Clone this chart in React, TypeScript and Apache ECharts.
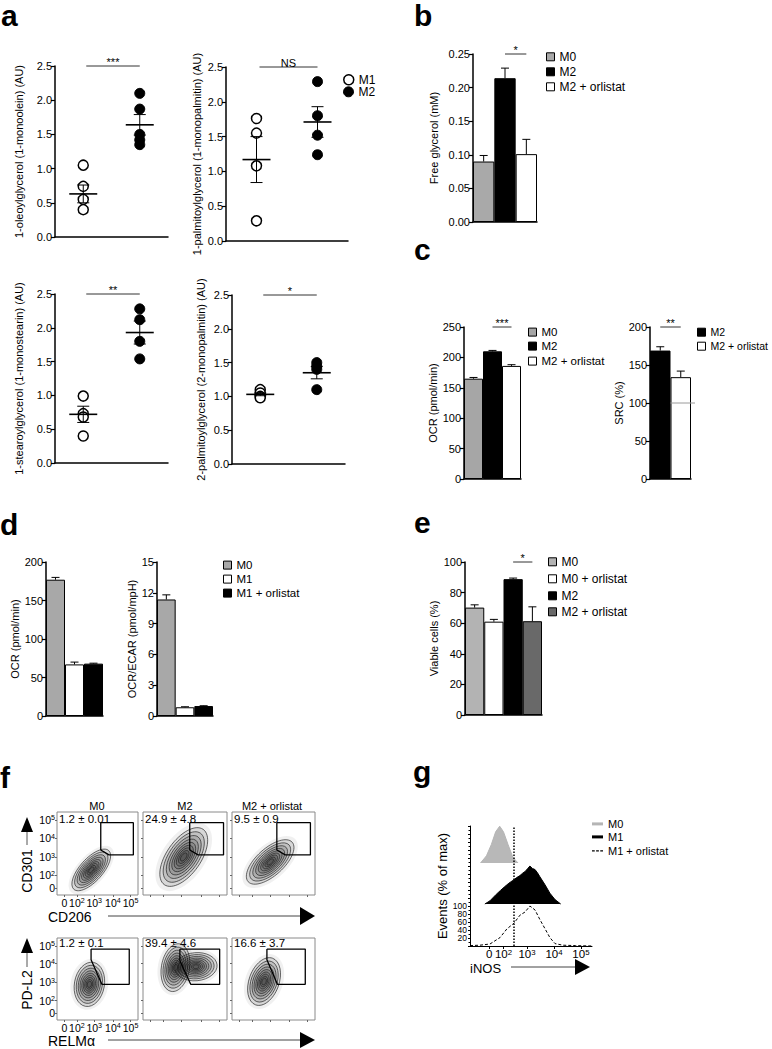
import React, { useEffect, useRef } from 'react';
import * as echarts from 'echarts';

const FONT = '"Liberation Sans", Arial, Helvetica, sans-serif';

// ---------------- panel a ----------------
const aGroups = ['M1', 'M2'];
const a1M1 = [1.05, 0.74, 0.55, 0.4];
const a1M2 = [2.1, 1.87, 1.5, 1.42, 1.35];
const a1Mean = [0.63, 1.64];
const a1Sem = [0.13, 0.15];
const a2M1 = [1.76, 1.55, 1.08, 0.29];
const a2M2 = [2.29, 1.8, 1.52, 1.24];
const a2Mean = [1.17, 1.71];
const a2Sem = [0.33, 0.22];
const a3M1 = [0.99, 0.73, 0.68, 0.4];
const a3M2 = [2.28, 2.12, 1.8, 1.54];
const a3Mean = [0.72, 1.93];
const a3Sem = [0.12, 0.17];
const a4M1 = [1.1, 1.05, 1.0, 0.98];
const a4M2 = [1.5, 1.45, 1.4, 1.1];
const a4Mean = [1.03, 1.35];
const a4Sem = [0.02, 0.09];
const aSig = ['***', 'NS', '**', '*'];
const aNames = [
  '1-oleoylglycerol (1-monoolein) (AU)',
  '1-palmitoylglycerol (1-monopalmitin) (AU)',
  '1-stearoylglycerol (1-monostearin) (AU)',
  '2-palmitoylglycerol (2-monopalmitin) (AU)',
];

// ---------------- panel b ----------------
const bCats = ['M0', 'M2', 'M2 + orlistat'];
const bVals = [0.09, 0.214, 0.101];
const bErr = [0.009, 0.015, 0.022];

// ---------------- panel c ----------------
const c1Cats = ['M0', 'M2', 'M2 + orlistat'];
const c1Vals = [165, 210, 186];
const c1Err = [2, 1.5, 2];
const c2Cats = ['M2', 'M2 + orlistat'];
const c2Vals = [169, 134];
const c2Err = [5, 8];
const c2Baseline = 100;

// ---------------- panel d ----------------
const dCats = ['M0', 'M1', 'M1 + orlistat'];
const d1Vals = [177, 67, 68];
const d1Err = [3, 3, 0.6];
const d2Vals = [11.35, 0.85, 0.97];
const d2Err = [0.45, 0.05, 0.03];

// ---------------- panel e ----------------
const eCats = ['M0', 'M0 + orlistat', 'M2', 'M2 + orlistat'];
const eVals = [70.2, 61, 88.8, 61.3];
const eErr = [1.8, 1.5, 0.7, 9.4];

// ---------------- panel f ----------------
const fXTicks = [1.45, 2.12, 3.05, 4.05, 5.0];
const fYTicks = [1.4, 2.08, 3.05, 4.05, 5.0];
const fYZero = 1.4;
const fTickText = ['0', '10{s|2}', '10{s|3}', '10{s|4}', '10{s|5}'];
const fColTitles = ['M0', 'M2', 'M2 + orlistat'];
const fStatsTop = ['1.2 ± 0.01', '24.9 ± 4.8', '9.5 ± 0.9'];
const fStatsBottom = ['1.2 ± 0.1', '39.4 ± 4.6', '16.6 ± 3.7'];
// [cx, cy, half-major, half-minor, angle deg]
const fCloudsTop = [
  [[2.89, 2.37, 1.4, 0.6, 48]],
  [[3.16, 3.05, 1.75, 0.9, 55]],
  [[3.05, 2.79, 1.55, 0.72, 42]],
];
const fCloudsBottom = [
  [[2.79, 2.95, 1.2, 0.8, 80]],
  [[2.73, 3.84, 1.25, 0.75, 80], [3.79, 3.89, 1.1, 0.75, 5]],
  [[2.73, 3.1, 1.3, 0.8, 70]],
];
const fGatesTop = [
  [[3.4, 4.86], [5.15, 4.86], [5.15, 3.16], [3.84, 3.16], [3.4, 3.42], [3.4, 4.86]],
  [[3.47, 4.86], [5.22, 4.86], [5.22, 3.16], [3.9, 3.16], [3.47, 3.42], [3.47, 4.86]],
  [[3.4, 4.86], [5.16, 4.86], [5.16, 3.16], [3.84, 3.16], [3.4, 3.42], [3.4, 4.86]],
];
const fGatesBottom = [
  [[2.88, 4.83], [4.93, 4.83], [4.93, 2.95], [3.46, 2.95], [2.88, 4.26], [2.88, 4.83]],
  [[2.96, 4.83], [5.02, 4.83], [5.02, 2.95], [3.52, 2.95], [2.96, 4.21], [2.96, 4.83]],
  [[2.88, 4.83], [4.89, 4.83], [4.89, 2.95], [3.43, 2.95], [2.88, 4.26], [2.88, 4.83]],
];

// ---------------- panel g ----------------
const gTickVals = [1.6, 2.13, 3, 4, 5];
const gTickText = ['0', '10{s|2}', '10{s|3}', '10{s|4}', '10{s|5}'];
const gYLabelMax = 100;
const gM0x = [1.28, 1.5, 1.68, 1.84, 1.99, 2.13, 2.3, 2.48, 2.67];
const gM0h = [0, 18, 46, 78, 92, 78, 46, 14, 0];
const gM0Base = 207.5;
const gM1x = [1.44, 1.63, 1.86, 2.02, 2.17, 2.33, 2.48, 2.62, 2.74, 2.84, 2.93, 3.02, 3.11, 3.2, 3.3, 3.39, 3.48, 3.67, 3.85, 4.04, 4.25];
const gM1h = [0, 8, 24, 34, 43, 52, 59, 66, 71, 77, 81, 88, 95, 89, 86, 78, 68, 48, 27, 11, 0];
const gM1Base = 105;
const gOrlx = [0.89, 1.26, 1.63, 2.0, 2.26, 2.52, 2.74, 2.93, 3.11, 3.3, 3.48, 3.67, 3.85, 4.04, 4.33, 4.8, 5.41];
const gOrly = [1, 2, 5, 21, 43, 57, 77, 85, 100, 90, 66, 43, 21, 6, 2, 1, 0];
const gGateX = 2.52;

function buildOption() {
  const grid: any[] = [];
  const xAxis: any[] = [];
  const yAxis: any[] = [];
  const series: any[] = [];
  const legend: any[] = [];
  const elements: any[] = [];
  const axisLineStyle = { color: '#000', width: 1.5 };
  const ts = (fs: number) => ({ fontSize: fs, color: '#000', fontFamily: FONT });
  const tsG = (fs: number) => ({ fontSize: fs, fontFamily: FONT, fill: '#000' });
  const legendFmt = (n: string) => (n.indexOf('|') >= 0 ? n.split('|')[1] : n);
  const supRich = (fs: number) => ({
    s: { fontSize: fs * 0.68, fontFamily: FONT, color: '#000', verticalAlign: 'top' },
  });

  const addGrid = (l: number, t: number, w: number, h: number) => {
    grid.push({ left: l, top: t, width: w, height: h, containLabel: false });
    return grid.length - 1;
  };
  const valueY = (gi: number, min: number, max: number, interval: number, name: string, nameGap: number, fmt?: any) => {
    yAxis.push({
      gridIndex: gi, type: 'value', min, max, interval, name, nameLocation: 'middle', nameGap, nameRotate: 90,
      nameTextStyle: ts(11),
      axisLine: { show: true, lineStyle: axisLineStyle },
      axisTick: { show: true, length: 4, lineStyle: { color: '#000', width: 1.2 } },
      axisLabel: { ...ts(11), margin: 3, formatter: fmt },
      splitLine: { show: false },
    });
  };
  const catX = (gi: number, cats: string[]) => {
    xAxis.push({
      gridIndex: gi, type: 'category', data: cats,
      axisLine: { show: true, onZero: false, lineStyle: axisLineStyle },
      axisTick: { show: false }, axisLabel: { show: false }, splitLine: { show: false },
    });
  };
  const sig = (gi: number, i0: number, i1: number, y: number, label: string, dx0 = 0) => {
    series.push({
      type: 'custom', xAxisIndex: gi, yAxisIndex: gi, z: 6, silent: true, clip: false,
      data: [[i0, i1, y]], encode: { x: [0, 1], y: 2 },
      renderItem: (p: any, api: any) => {
        const a = api.coord([api.value(0), api.value(2)]);
        const b = api.coord([api.value(1), api.value(2)]);
        return {
          type: 'group', children: [
            { type: 'line', shape: { x1: a[0] + dx0, y1: a[1], x2: b[0], y2: a[1] }, style: { stroke: '#333', lineWidth: 1 } },
            { type: 'text', x: (a[0] + dx0 + b[0]) / 2, y: a[1] + 1, style: { text: label, fontSize: 11, fontFamily: FONT, fill: '#000', align: 'center', verticalAlign: 'bottom' } },
          ],
        };
      },
    });
  };
  const errBars = (gi: number, vals: number[], errs: number[], cap: number) => {
    series.push({
      type: 'custom', xAxisIndex: gi, yAxisIndex: gi, z: 5, silent: true, clip: false,
      data: vals.map((v, i) => [i, v, v + errs[i]]), encode: { x: 0, y: [1, 2] },
      renderItem: (p: any, api: any) => {
        const b = api.coord([api.value(0), api.value(1)]);
        const t = api.coord([api.value(0), api.value(2)]);
        return {
          type: 'group', children: [
            { type: 'line', shape: { x1: b[0], y1: b[1], x2: b[0], y2: t[1] }, style: { stroke: '#000', lineWidth: 1 } },
            { type: 'line', shape: { x1: b[0] - cap, y1: t[1], x2: b[0] + cap, y2: t[1] }, style: { stroke: '#000', lineWidth: 1 } },
          ],
        };
      },
    });
  };
  const legendItem = (name: string, left: number, cy: number, icon: string, itemStyle: any, fs: number, iw: number, ih: number) => {
    legend.push({
      show: true, left, top: cy - fs * 0.6, orient: 'vertical', padding: 0, itemGap: 0,
      itemWidth: iw, itemHeight: ih, selectedMode: false,
      data: [{ name, icon, itemStyle }], formatter: legendFmt, textStyle: ts(fs),
    });
  };
  const barPanel = (pfx: string, gi: number, cats: string[], vals: number[], errs: number[], colors: string[]) => {
    catX(gi, cats);
    cats.forEach((c, i) => {
      series.push({
        type: 'bar', name: pfx + '|' + c, xAxisIndex: gi, yAxisIndex: gi, stack: 'st' + gi, barCategoryGap: '0%',
        data: vals.map((v, j) => (j === i ? v : '-')),
        itemStyle: { color: colors[i], borderColor: '#000', borderWidth: 1 },
      });
    });
    errBars(gi, vals, errs, 4);
  };
  const barLegend = (pfx: string, cats: string[], colors: string[], left: number, cys: number[], fs: number) => {
    cats.forEach((c, i) =>
      legendItem(pfx + '|' + c, left, cys[i], 'rect', { color: colors[i], borderColor: '#000', borderWidth: 1 }, fs, 8, 8)
    );
  };

  // ---------- panel a ----------
  const aRects = [[55, 66, 113, 171], [226, 67, 122, 174], [55, 294, 113, 169], [232, 295, 113, 169]];
  const aGaps = [31, 24, 31, 26];
  const aData = [
    [a1M1, a1M2, a1Mean, a1Sem],
    [a2M1, a2M2, a2Mean, a2Sem],
    [a3M1, a3M2, a3Mean, a3Sem],
    [a4M1, a4M2, a4Mean, a4Sem],
  ];
  aRects.forEach((r, k) => {
    const gi = addGrid(r[0], r[1], r[2], r[3]);
    catX(gi, aGroups);
    valueY(gi, 0, 2.5, 0.5, aNames[k], aGaps[k], (v: number) => v.toFixed(1));
    const [m1, m2, mean, sem] = aData[k];
    series.push({
      type: 'scatter', name: 'a' + (k + 1) + '|M1', xAxisIndex: gi, yAxisIndex: gi, z: 3,
      data: m1.map((v) => [0, v]), symbolSize: 10,
      itemStyle: { color: '#fff', borderColor: '#000', borderWidth: 1.5, opacity: 1 },
    });
    series.push({
      type: 'scatter', name: 'a' + (k + 1) + '|M2', xAxisIndex: gi, yAxisIndex: gi, z: 3,
      data: m2.map((v) => [1, v]), symbolSize: 10,
      itemStyle: { color: '#000', borderColor: '#000', borderWidth: 1, opacity: 1 },
    });
    series.push({
      type: 'custom', xAxisIndex: gi, yAxisIndex: gi, z: 5, silent: true,
      data: mean.map((m, i) => [i, m, sem[i]]), encode: { x: 0, y: 1 },
      renderItem: (p: any, api: any) => {
        const x = api.value(0), m = api.value(1), s = api.value(2);
        const c = api.coord([x, m]);
        const hi = api.coord([x, m + s]);
        const lo = api.coord([x, m - s]);
        const st = { stroke: '#000', lineWidth: 1 };
        return {
          type: 'group', children: [
            { type: 'line', shape: { x1: c[0] - 14, y1: c[1], x2: c[0] + 14, y2: c[1] }, style: { stroke: '#000', lineWidth: 1.6 } },
            { type: 'line', shape: { x1: c[0], y1: hi[1], x2: c[0], y2: lo[1] }, style: st },
            { type: 'line', shape: { x1: c[0] - 6, y1: hi[1], x2: c[0] + 6, y2: hi[1] }, style: st },
            { type: 'line', shape: { x1: c[0] - 6, y1: lo[1], x2: c[0] + 6, y2: lo[1] }, style: st },
          ],
        };
      },
    });
    sig(gi, 0, 1, 2.5, aSig[k], 3);
  });
  legendItem('a2|M1', 343, 81, 'circle', { color: '#fff', borderColor: '#000', borderWidth: 1.5 }, 12, 10, 10);
  legendItem('a2|M2', 343, 93, 'circle', { color: '#000', borderColor: '#000', borderWidth: 1 }, 12, 10, 10);

  // ---------- panel b ----------
  const bColors = ['#a9a9a9', '#000000', '#ffffff'];
  const gb = addGrid(473, 54, 64, 168);
  valueY(gb, 0, 0.25, 0.05, 'Free glycerol (mM)', 34, (v: number) => v.toFixed(2));
  barPanel('b', gb, bCats, bVals, bErr, bColors);
  sig(gb, 1, 2, 0.25, '*');
  barLegend('b', bCats, bColors, 546, [58, 73, 88], 12);

  // ---------- panel c ----------
  const c1Colors = ['#a6a6a6', '#000000', '#ffffff'];
  const gc1 = addGrid(464, 327, 57, 152);
  valueY(gc1, 0, 250, 50, 'OCR (pmol/min)', 22);
  barPanel('c1', gc1, c1Cats, c1Vals, c1Err, c1Colors);
  sig(gc1, 1, 2, 250, '***');
  barLegend('c1', c1Cats, c1Colors, 528, [333, 347, 362], 11.5);

  const c2Colors = ['#000000', '#ffffff'];
  const gc2 = addGrid(650, 327, 41, 152);
  valueY(gc2, 0, 200, 50, 'SRC (%)', 22);
  barPanel('c2', gc2, c2Cats, c2Vals, c2Err, c2Colors);
  sig(gc2, 0, 1, 200, '**');
  series.push({
    type: 'custom', xAxisIndex: gc2, yAxisIndex: gc2, z: 6, silent: true, clip: false,
    data: [[1, c2Baseline]], encode: { x: 0, y: 1 },
    renderItem: (p: any, api: any) => {
      const c = api.coord([api.value(0), api.value(1)]);
      const w = api.size([1, 0])[0];
      return { type: 'line', shape: { x1: c[0] - w / 2, y1: c[1], x2: c[0] + w / 2 + 4, y2: c[1] }, style: { stroke: '#9a9a9a', lineWidth: 1 } };
    },
  });
  barLegend('c2', c2Cats, c2Colors, 697, [333, 347], 10.5);

  // ---------- panel d ----------
  const dColors = ['#a8a8a8', '#ffffff', '#000000'];
  const gd1 = addGrid(46, 562, 57, 154);
  valueY(gd1, 0, 200, 50, 'OCR (pmol/min)', 23);
  barPanel('d1', gd1, dCats, d1Vals, d1Err, dColors);
  const gd2 = addGrid(157, 562, 56, 154);
  valueY(gd2, 0, 15, 3, 'OCR/ECAR (pmol/mpH)', 18);
  barPanel('d2', gd2, dCats, d2Vals, d2Err, dColors);
  barLegend('d1', dCats, dColors, 223, [566, 580, 594], 11.5);

  // ---------- panel e ----------
  const eColors = ['#b3b3b3', '#ffffff', '#000000', '#696969'];
  const ge = addGrid(465, 562, 77, 153);
  valueY(ge, 0, 100, 20, 'Viable cells (%)', 22);
  barPanel('e', ge, eCats, eVals, eErr, eColors);
  sig(ge, 2, 3, 100, '*');
  barLegend('e', eCats, eColors, 548, [563, 580, 597, 613], 12);

  // ---------- panel f ----------
  const mkLookup = (vals: number[]) => (v: number) => {
    const i = vals.findIndex((t) => Math.abs(t - v) < 1e-6);
    return i >= 0 ? fTickText[i] : '';
  };
  const fLefts = [[57, 81], [143, 84], [232, 83]];
  const fTops = [[812, 83], [938, 82]];
  const fYMin = 1.05, fYMax = 5.42;
  const levels = [1, 0.86, 0.73, 0.61, 0.5, 0.4, 0.31, 0.22, 0.14];
  fTops.forEach((row, ri) => {
    fLefts.forEach((col, ci) => {
      const gi = addGrid(col[0], row[0], col[1], row[1]);
      grid[gi].show = true;
      grid[gi].borderColor = '#8a8a8a';
      grid[gi].borderWidth = 1;
      const first = ci === 0;
      xAxis.push({
        gridIndex: gi, type: 'value', min: 1.05, max: 5.4,
        axisLine: { show: false }, splitLine: { show: false },
        axisTick: { show: true, customValues: fXTicks, length: 2, lineStyle: { color: '#666' } },
        axisLabel: { show: first, interval: 0, hideOverlap: false, customValues: fXTicks, formatter: mkLookup(fXTicks), ...ts(10.5), margin: 2, rich: supRich(10.5) },
      });
      yAxis.push({
        gridIndex: gi, type: 'value', min: fYMin, max: fYMax,
        axisLine: { show: false }, splitLine: { show: false },
        axisTick: { show: true, customValues: fYTicks, length: 2, lineStyle: { color: '#666' } },
        axisLabel: { show: first, interval: 0, hideOverlap: false, customValues: fYTicks.slice(1), formatter: mkLookup(fYTicks), ...ts(10.5), margin: 2, lineHeight: 10, rich: supRich(10.5) },
      });
      if (first) {
        // the "0" tick label of the y axis (ECharts drops it next to 10²)
        const yPix = row[0] + ((fYMax - fYZero) / (fYMax - fYMin)) * row[1];
        elements.push({ type: 'text', x: col[0] - 2, y: yPix, style: { text: '0', ...tsG(10.5), align: 'right', verticalAlign: 'middle' } });
      }
      const clouds = (ri === 0 ? fCloudsTop : fCloudsBottom)[ci];
      series.push({
        type: 'custom', xAxisIndex: gi, yAxisIndex: gi, z: 3, silent: true, clip: true,
        data: clouds, encode: { x: 0, y: 1 },
        renderItem: (p: any, api: any) => {
          const c = api.coord([api.value(0), api.value(1)]);
          const sz = api.size([api.value(2), api.value(3)]);
          const rot = (api.value(4) * Math.PI) / 180;
          const ch: any[] = [
            { type: 'ellipse', x: c[0], y: c[1], rotation: rot, shape: { cx: 0, cy: 0, rx: sz[0] * 1.15, ry: sz[1] * 1.25 }, style: { fill: 'rgba(0,0,0,0.06)' } },
          ];
          levels.forEach((k) =>
            ch.push({ type: 'ellipse', x: c[0], y: c[1], rotation: rot, shape: { cx: 0, cy: 0, rx: sz[0] * k, ry: sz[1] * k }, style: { fill: 'rgba(0,0,0,0.1)', stroke: '#1a1a1a', lineWidth: 0.6 } })
          );
          return { type: 'group', children: ch };
        },
      });
      const gate = (ri === 0 ? fGatesTop : fGatesBottom)[ci];
      series.push({
        type: 'line', xAxisIndex: gi, yAxisIndex: gi, data: gate, symbol: 'none', silent: true, z: 8,
        lineStyle: { color: '#000', width: 1.3 },
      });
      const stats = (ri === 0 ? fStatsTop : fStatsBottom)[ci];
      elements.push({ type: 'text', x: col[0] + 2, y: row[0] + (ri === 0 ? 7 : 5), style: { text: stats, ...tsG(11.5), align: 'left', verticalAlign: 'middle' } });
    });
  });
  fColTitles.forEach((t, i) => {
    elements.push({ type: 'text', x: [97, 185, 272][i], y: 806, style: { text: t, ...tsG(11), align: 'center', verticalAlign: 'middle' } });
  });

  // ---------- panel g ----------
  const gLookupX = (v: number) => {
    const i = gTickVals.findIndex((t) => Math.abs(t - v) < 1e-6);
    return i >= 0 ? gTickText[i] : '';
  };
  const gg = addGrid(470, 826, 122, 120);
  xAxis.push({
    gridIndex: gg, type: 'value', min: 0.89, max: 5.41,
    axisLine: { show: true, onZero: false, lineStyle: { color: '#000', width: 1 } },
    axisTick: { show: true, customValues: gTickVals, length: 3, lineStyle: { color: '#000' } },
    axisLabel: { interval: 0, hideOverlap: false, customValues: gTickVals, formatter: gLookupX, ...ts(11.5), margin: 2, rich: supRich(11.5) },
    splitLine: { show: false },
  });
  yAxis.push({
    gridIndex: gg, type: 'value', min: 0, max: 300, interval: 20,
    name: 'Events (% of max)', nameLocation: 'middle', nameGap: 21, nameRotate: 90, nameTextStyle: ts(13),
    axisLine: { show: true, lineStyle: { color: '#000', width: 1 } },
    axisTick: { show: true, length: 2, lineStyle: { color: '#000' } },
    minorTick: { show: true, splitNumber: 2, length: 1.5, lineStyle: { color: '#000' } },
    axisLabel: {
      ...ts(8.5), margin: 3, lineHeight: 8,
      formatter: (v: number) => (v > 0 && v <= gYLabelMax ? String(v) : ''),
    },
    splitLine: { show: false },
  });
  series.push({
    type: 'line', name: 'g|M0', xAxisIndex: gg, yAxisIndex: gg, symbol: 'none', z: 3,
    data: gM0x.map((x, i) => [x, gM0Base + gM0h[i]]),
    lineStyle: { color: '#b5b5b5', width: 1 },
    itemStyle: { color: '#b5b5b5' },
    areaStyle: { color: '#b8b8b8', opacity: 1, origin: gM0Base },
  });
  series.push({
    type: 'line', name: 'g|M1', xAxisIndex: gg, yAxisIndex: gg, symbol: 'none', z: 3,
    data: gM1x.map((x, i) => [x, gM1Base + gM1h[i]]),
    lineStyle: { color: '#000', width: 1 },
    itemStyle: { color: '#000' },
    areaStyle: { color: '#000', opacity: 1, origin: gM1Base },
  });
  series.push({
    type: 'line', name: 'g|M1 + orlistat', xAxisIndex: gg, yAxisIndex: gg, symbol: 'none', z: 3,
    data: gOrlx.map((x, i) => [x, gOrly[i]]),
    lineStyle: { color: '#000', width: 1, type: [3, 2] },
    itemStyle: { color: '#000' },
    markLine: {
      silent: true, symbol: 'none', label: { show: false },
      lineStyle: { color: '#000', width: 1.5, type: [1.5, 1.5] },
      data: [{ xAxis: gGateX }],
    },
  });
  legendItem('g|M0', 592, 825, 'rect', { color: '#b5b5b5' }, 11, 11, 3);
  legendItem('g|M1', 592, 838, 'rect', { color: '#000' }, 11, 11, 3);
  legendItem('g|M1 + orlistat', 592, 852, 'path://M0,0H4V2H0Z M6,0H10V2H6Z M12,0H16V2H12Z', { color: '#000' }, 11, 11, 3);

  // ---------- texts / arrows ----------
  const letters: [string, number, number][] = [
    ['a', 1, 23], ['b', 414, 25], ['c', 414, 260], ['d', 0, 535], ['e', 414, 533], ['f', 0, 788], ['g', 413, 782],
  ];
  letters.forEach(([t, x, base]) =>
    elements.push({
      type: 'text', x, y: Math.max(0, base - 25.5), style: { text: t, fontSize: 30, fontWeight: 'bold', fontFamily: FONT, fill: '#000', align: 'left', verticalAlign: 'top' },
    })
  );
  const vLabel = (t: string, x: number, y: number) =>
    elements.push({ type: 'text', x, y, rotation: Math.PI / 2, style: { text: t, ...tsG(14), align: 'center', verticalAlign: 'middle' } });
  vLabel('CD301', 27, 871);
  vLabel('PD-L2', 27, 990);
  elements.push({ type: 'polygon', shape: { points: [[21, 832], [33, 832], [27, 817]] }, style: { fill: '#000' } });
  elements.push({ type: 'line', shape: { x1: 27, y1: 832, x2: 27, y2: 845 }, style: { stroke: '#555', lineWidth: 1 } });
  elements.push({ type: 'polygon', shape: { points: [[21, 953], [33, 953], [27, 938]] }, style: { fill: '#000' } });
  elements.push({ type: 'line', shape: { x1: 27, y1: 953, x2: 27, y2: 967 }, style: { stroke: '#555', lineWidth: 1 } });
  const hArrow = (t: string, x: number, y: number, x0: number, x1: number, tip: number, half: number, fs: number) => {
    elements.push({ type: 'text', x, y, style: { text: t, ...tsG(fs), align: 'left', verticalAlign: 'middle' } });
    elements.push({ type: 'line', shape: { x1: x0, y1: y - 1, x2: x1, y2: y - 1 }, style: { stroke: '#444', lineWidth: 1 } });
    elements.push({ type: 'polygon', shape: { points: [[x1, y - 1 - half], [x1, y - 1 + half], [tip, y - 1]] }, style: { fill: '#000' } });
  };
  hArrow('CD206', 48, 917, 108, 300, 315, 9, 14);
  hArrow('RELMα', 48, 1041, 108, 300, 315, 8, 14);
  hArrow('iNOS', 470, 968, 511, 575, 590, 8, 13);

  return {
    animation: false,
    backgroundColor: '#fff',
    textStyle: { fontFamily: FONT },
    grid, xAxis, yAxis, series, legend,
    graphic: { elements },
  };
}

export default function App() {
  const ref = useRef<HTMLDivElement>(null);
  useEffect(() => {
    const chart = echarts.init(ref.current as HTMLDivElement, null, { renderer: 'svg', width: 772, height: 1049 });
    chart.setOption(buildOption() as any);
    return () => chart.dispose();
  }, []);
  return <div ref={ref} style={{ position: 'absolute', left: 0, top: 0, width: 772, height: 1049, background: '#fff' }} />;
}
